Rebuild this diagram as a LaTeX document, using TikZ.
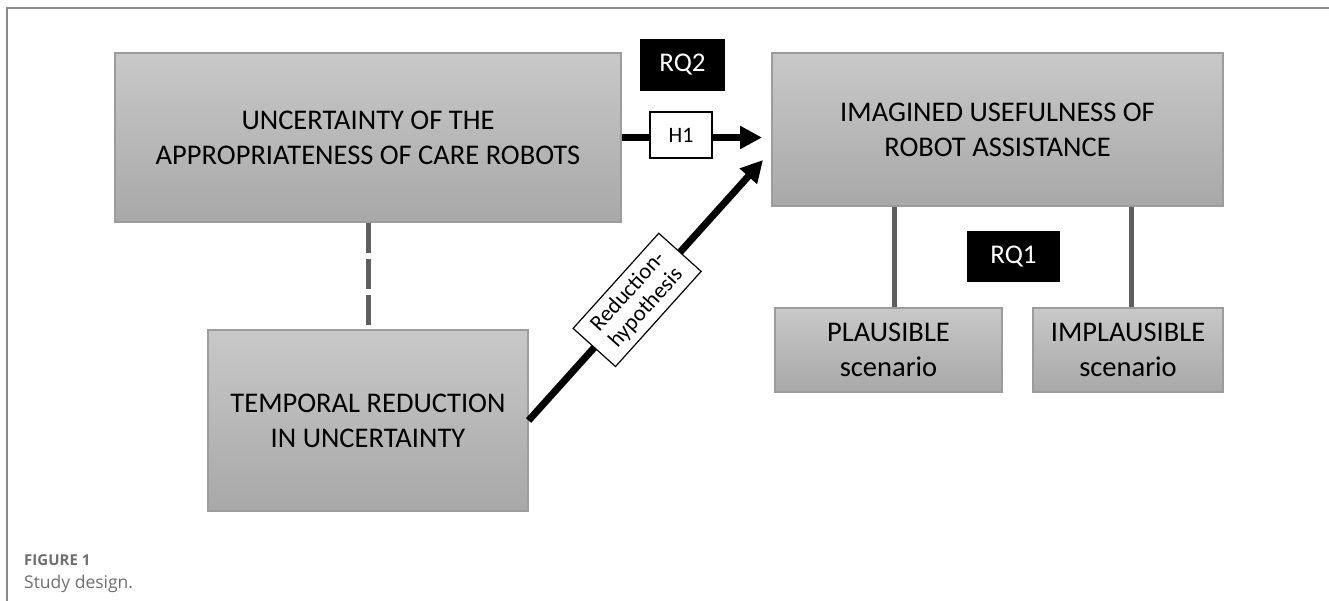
\documentclass[tikz,border=0pt]{standalone}
\usepackage{fontspec}
\setmainfont{Carlito}
\newfontfamily\capfont{Open Sans}
\usetikzlibrary{arrows.meta}

\definecolor{boxtop}{HTML}{C8C8C8}
\definecolor{boxbot}{HTML}{A8A8A8}
\definecolor{boxrim}{HTML}{9C9C9C}
\definecolor{linkgray}{HTML}{5E5E5E}
\definecolor{framegray}{HTML}{8A8A8A}
\definecolor{capgray}{HTML}{6E6E6E}

\begin{document}
\begin{tikzpicture}[x=1pt,y=-1pt,
    greybox/.style={draw=boxrim,line width=1.2pt,top color=boxtop,bottom color=boxbot,
      align=center,inner sep=0pt,font=\fontsize{28.5}{35}\selectfont},
    rqbox/.style={fill=black,text=white,inner sep=0pt,font=\fontsize{27}{30}\selectfont},
    hypbox/.style={draw=black,fill=white,line width=1.2pt,align=center,inner sep=0pt},
    effect/.style={line width=7pt,-{Triangle[length=22pt,width=22pt]}},
    link/.style={draw=linkgray,line width=5pt}]
      \useasboundingbox (0,0) rectangle (1329,601);
      \draw[framegray,line width=1.2pt] (7,601)--(7,8)--(1329,8);

      % Predictors
      \node[greybox,minimum width=506pt,minimum height=169pt] (unc) at (368,137.5)
        {UNCERTAINTY OF THE\\APPROPRIATENESS OF CARE ROBOTS};
      \node[greybox,minimum width=320pt,minimum height=181pt] (temp) at (368,420.5)
        {TEMPORAL REDUCTION\\IN UNCERTAINTY};
      \draw[link,dash pattern=on 30pt off 6pt] (unc.south)--(temp.north);

      % Outcome and scenarios
      \node[greybox,minimum width=451pt,minimum height=153pt] (usef) at (997.5,129.5)
        {IMAGINED USEFULNESS OF\\ROBOT ASSISTANCE};
      \node[greybox,minimum width=227pt,minimum height=84pt] (plaus) at (888.5,350)
        {PLAUSIBLE\\scenario};
      \node[greybox,minimum width=190pt,minimum height=84pt] (implaus) at (1128,350)
        {IMPLAUSIBLE\\scenario};
      \draw[link] ([xshift=5.5pt]plaus.north)--([xshift=5.5pt]plaus.north |- usef.south);
      \draw[link] ([xshift=3pt]implaus.north)--([xshift=3pt]implaus.north |- usef.south);

      % Research questions
      \node[rqbox,minimum width=85pt,minimum height=52pt] (rq2) at (682.5,65) {RQ2};
      \node[rqbox,minimum width=93pt,minimum height=51pt] (rq1) at (1013.5,256.5) {RQ1};

      % Hypotheses
      \coordinate (tipH) at (762,137.5);
      \coordinate (tipR) at (763,160);
      \draw[effect] (unc.east)--(tipH);
      \node[hypbox,minimum width=62pt,minimum height=46pt,font=\fontsize{22}{24}\selectfont] (h1) at (681,135) {H1};
      \draw[effect] (temp.east)-- node[hypbox,sloped,pos=0.463,minimum width=128pt,minimum height=57pt,
        font=\fontsize{22.5}{24}\selectfont] (redhyp) {Reduction-\\hypothesis} (tipR);

      % Caption
      \node[anchor=base west,inner sep=0pt,text=capgray,font=\capfont\bfseries\fontsize{15}{18}\selectfont] (figlabel) at (24,565) {FIGURE 1};
      \node[anchor=base west,inner sep=0pt,text=capgray,font=\capfont\fontsize{17.5}{21}\selectfont] (figtext) at (24,588) {Study design.};
\end{tikzpicture}
\end{document}
